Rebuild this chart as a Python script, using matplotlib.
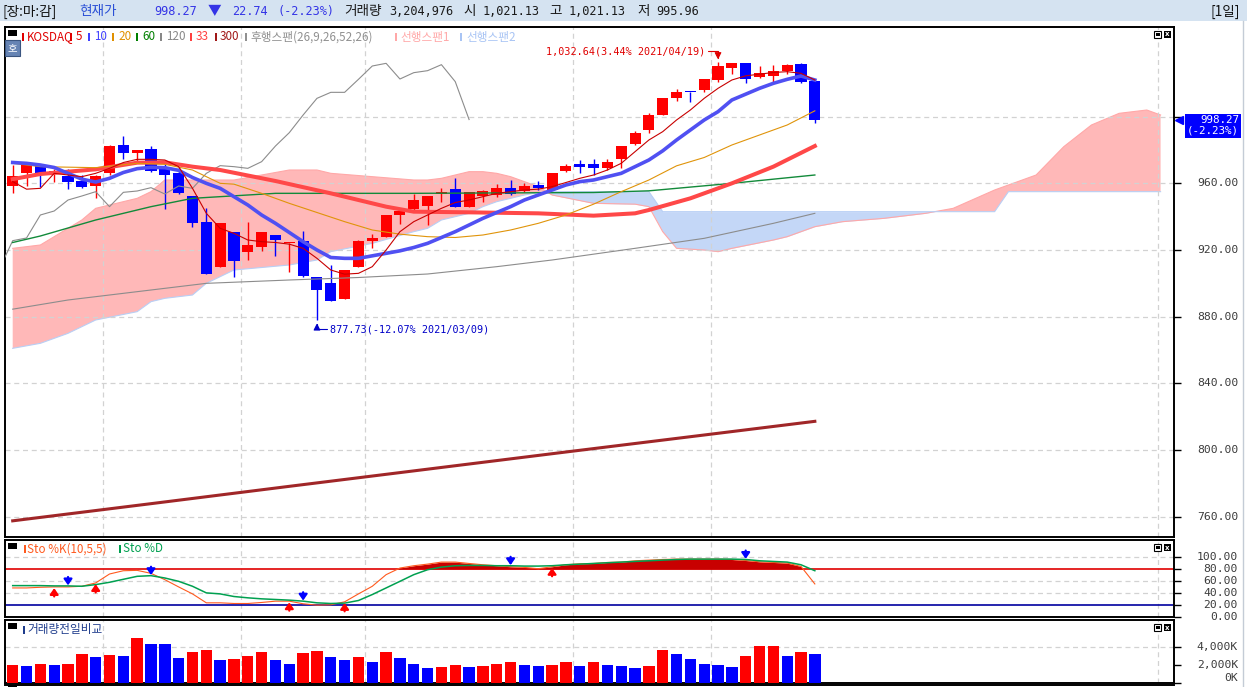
import numpy as np
import matplotlib
matplotlib.use("Agg")
import matplotlib.pyplot as plt
from matplotlib import transforms
from matplotlib.patches import Rectangle

plt.rcParams["font.family"] = ["Noto Sans CJK KR", "DejaVu Sans"]
plt.rcParams["axes.unicode_minus"] = False
MONO = ["DejaVu Sans Mono", "Noto Sans CJK KR"]

# ── KOSDAQ daily candles, 2021/02/02 ~ 2021/04/28 ─────────────────────────────
OPEN = [958.6, 966, 970.4, 966, 964.6, 961.4, 958.6, 966, 983, 978,
        980.6, 969.4, 966.4, 952.4, 936.8, 910, 930.8, 919, 922, 929,
        924, 925.4, 903.8, 900.2, 890.8, 910, 925.6, 928, 941, 944.6,
        946.4, 953.6, 956.6, 946, 952.6, 953, 957, 955.6, 959, 956,
        967.6, 971.6, 971.6, 969, 974.4, 983.4, 992, 1001, 1011.4, 1014.8,
        1016, 1022, 1029.4, 1032, 1024, 1024.6, 1027.6, 1031.4, 1021.13]
HIGH = [971, 971.5, 971, 968.4, 968.4, 964.8, 965, 983, 988.4, 980,
        982.4, 972, 970, 952.4, 945.4, 936.2, 930.8, 937, 930.8, 929,
        924.5, 931.4, 903.8, 911, 908, 926, 929.4, 941, 944, 953.4,
        952.4, 957.4, 963, 955, 956, 959.6, 962, 960, 961.4, 966,
        971.6, 974, 974.4, 974.4, 982.4, 991.4, 1002, 1011, 1016.6, 1014.8,
        1022.4, 1032.64, 1032, 1032, 1030.4, 1031, 1031.5, 1032.5, 1021.13]
LOW = [954, 958.6, 958, 961, 956.6, 957.5, 951.4, 965, 974.4, 972.6,
       967, 944.6, 953.4, 934, 905.8, 910, 904, 914, 919.4, 916.4,
       907, 904, 877.73, 889.6, 890.8, 910, 921.4, 928, 935.4, 944,
       935, 949, 946, 946, 948.6, 952, 953, 955, 956, 956,
       967, 966.4, 965, 968, 969, 983, 990.4, 1001, 1009.6, 1009,
       1014.6, 1021, 1025.6, 1020, 1023, 1020, 1025.6, 1020, 995.96]
CLOSE = [964.4, 971, 966, 967.6, 961, 958, 964.4, 982.6, 978, 980,
         967.6, 965, 954.4, 936.4, 905.8, 936.2, 913.6, 923, 930.8, 926,
         924.3, 904.4, 896, 889.6, 908, 925.6, 927.2, 941, 943.4, 950,
         952.4, 955, 946, 954.6, 955.4, 957.4, 953.6, 958.4, 957, 966,
         970.6, 970, 969, 973, 982.4, 990.4, 1001, 1011, 1014.6, 1014.6,
         1022.4, 1030.4, 1032, 1022.6, 1026.4, 1027.6, 1031.2, 1021.01, 998.27]
VOLUME_K = [2058, 1942, 2175, 2058, 2175, 3223, 2874, 3107, 2990, 5087,
            4388, 4350, 2757, 3456, 3689, 2524, 2641, 2990, 3456, 2524,
            2175, 3340, 3573, 2874, 2524, 2874, 2408, 3456, 2757, 2175,
            1709, 1825, 2058, 1825, 1850, 2175, 2408, 2058, 1942, 2058,
            2408, 1942, 2408, 2058, 1942, 1709, 1942, 3689, 3223, 2641,
            2175, 2058, 1825, 2990, 4155, 4180, 2990, 3456, 3204.976]
HIGH_DATE = "2021/04/19"
LOW_DATE = "2021/03/09"

# ── moving averages ───────────────────────────────────────────────────────────
MA5 = [961, 956.5, 957, 966, 965, 964, 966, 969, 972.5, 974.4,
       974.4, 974, 970, 957, 942, 933, 930, 926, 925, 924.5,
       923.5, 921, 915, 908, 905.5, 906, 910, 920, 931, 937,
       941, 945, 948.5, 950, 952, 954, 955, 956, 956.5, 958,
       960.5, 963, 965, 968, 972, 979, 986, 991, 998, 1004,
       1011, 1017, 1022, 1024.5, 1025.5, 1026.5, 1027, 1026, 1022]
MA10 = [972.5, 972, 971, 969.5, 966, 962.5, 960.8, 963, 966.5, 968.8,
        969.6, 969.4, 967.8, 963.5, 960, 957, 952, 947, 941, 936,
        930.5, 925, 920, 915.5, 915, 915, 916.5, 918, 919.5, 921.5,
        924, 927.5, 931, 935, 939, 942.5, 946, 950, 953, 956,
        959, 961, 962, 964, 966, 970, 974, 979.5, 986, 992,
        998, 1003, 1010, 1013.5, 1017, 1020, 1022.4, 1024.4, 1022]
MA20_X = [0, 2, 6, 9, 11, 13, 14, 15, 16, 18, 20, 22, 24, 26, 28,
          30, 32, 34, 36, 38, 40, 42, 44, 46, 48, 50, 52, 54, 56, 58]
MA20 = [972, 970, 969.4, 972, 971.4, 968, 964, 960, 959.5, 954, 948, 942.5, 937, 932, 929.5,
        928, 927.5, 929, 932, 936, 941, 947.5, 955, 962, 970.5, 975.5, 983, 989, 995, 1003.5]
MA33_X = [0, 2, 6, 9, 11, 13, 15, 19, 23, 27, 29, 33, 38, 42, 45, 46, 49, 52, 55, 58]
MA33 = [962.5, 965.6, 968.4, 972.4, 972.6, 970, 968, 961.4, 954, 946,
        943, 942.6, 942, 940.6, 942, 944, 951, 960, 970, 982.4]
MA60_X = [0, 2, 6, 10, 13, 15, 19, 29, 42, 46, 52, 58]
MA60 = [924.5, 928.4, 938, 946, 951, 952, 954, 954, 954.5, 955.5, 960, 965]
MA120_X = [0, 4, 10, 14, 20, 25, 30, 35, 39, 45, 50, 55, 58]
MA120 = [884.5, 890, 896, 900, 902, 903.5, 905.6, 910, 914, 921, 927, 936, 942]
MA300_X = [0, 10, 20, 30, 40, 50, 58]
MA300 = [757.5, 767.8, 778.2, 788.5, 798.8, 809, 817.2]

# ── ichimoku cloud (leading spans) ───────────────────────────────────────────
CLOUD_X = [0, 2, 3, 4, 5, 6, 9, 10, 11, 13, 14, 16, 20, 22, 23, 26, 29, 30, 31, 33,
           34, 35, 36, 37, 38, 39, 42, 45, 46, 47, 48, 50, 51, 52, 55, 56, 58, 60, 63,
           66, 67, 68, 71, 72, 74, 76, 78, 80, 82, 83]
SPAN1 = [921, 923, 928, 933, 938, 945, 951, 955, 962, 962, 962, 962, 968, 968, 966, 964, 962, 962, 963, 967,
         967, 966, 964, 961, 958, 953, 948, 947.5, 946, 931, 921, 920, 919, 921, 926, 928, 934, 937, 939,
         942, 943.5, 945, 956, 959, 965, 982, 995, 1002, 1004, 1001]
SPAN2 = [861, 864, 867, 870, 874, 878, 883, 889, 891, 893, 900, 908, 911, 914, 919, 924, 931, 933, 938, 942,
         946, 949, 951, 953, 954.5, 955, 955, 955, 955, 943, 943, 943, 943, 943, 943, 943, 943, 943, 943,
         943, 943, 943, 943, 955, 955, 955, 955, 955, 955, 955]
LAG_SHIFT = 25

# ── slow stochastic (10,5,5) ─────────────────────────────────────────────────
STO_K = [48.3, 48.3, 49.4, 50, 50, 51.1, 56.7, 71.7, 77.2, 77.8,
         72.8, 62.2, 50, 38.3, 23.3, 23.3, 22.2, 22.2, 23.9, 26.1,
         26.1, 21.7, 19.4, 20, 25, 38.3, 51.1, 70.6, 81.7, 85.6,
         88.3, 91.7, 91.7, 89.4, 87.2, 85.6, 83.9, 82.8, 80.6, 83.9,
         87.2, 88.9, 89.4, 91.1, 91.7, 93.9, 95, 96.1, 96.7, 96.7,
         96.7, 96.7, 96.1, 94.4, 92.2, 91.1, 90, 84.4, 55]
STO_D = [52.2, 52.2, 52.2, 51.7, 51.7, 51.1, 53.9, 57.8, 62.8, 67.8,
         68.9, 65, 59.4, 51.1, 40, 38.3, 33.9, 31.7, 30, 28.9,
         27.8, 26.1, 23.3, 22.2, 22.8, 27.2, 37.2, 48.3, 59.4, 70.6,
         78.9, 83.3, 85.6, 86.1, 86.1, 85.6, 85.6, 85, 85, 85.6,
         87.2, 88.3, 89.4, 90.6, 91.7, 92.8, 93.9, 95, 96.1, 96.7,
         96.7, 96.7, 96.7, 96.1, 93.9, 92.8, 91.7, 87.2, 77.2]
STO_BUY = [3, 6, 20, 24, 39]
STO_SELL = [4, 10, 21, 36, 53]

PRICE_TICKS = [760, 800, 840, 880, 920, 960, 1000]
PRICE_LABELED = [760, 800, 840, 880, 920, 960]   # 1,000.00 sits under the price tag
STO_TICKS = [100, 80, 60, 40, 20, 0]
VOL_TICKS = [4000, 2000, 0]
GRID_X = [6.5, 16.5, 25.5, 40.5, 50.5, 82.8]

# ── layout helpers (pixel coords, y from top) ────────────────────────────────
W, H = 1247, 687
def fx(px): return px / W
def fy(py): return 1 - py / H

SLOT, X_FIRST = 13.83, 12.7
XMIN = (5 - X_FIRST) / SLOT
XMAX = (1174 - X_FIRST) / SLOT
LBL_X = (1238 - 5) / (1174 - 5)

fig = plt.figure(figsize=(W / 100, H / 100), dpi=100)
fig.patch.set_facecolor("white")


def px_rect(x, y, w, h, **kw):
    fig.add_artist(Rectangle((fx(x), fy(y + h)), w / W, h / H,
                             transform=fig.transFigure, **kw))


def make_panel(top, bottom, ylim):
    ax = fig.add_axes([fx(5), fy(bottom), (1174 - 5) / W, (bottom - top) / H])
    ax.set_xlim(XMIN, XMAX)
    ax.set_ylim(*ylim)
    for s in ax.spines.values():
        s.set_color("black")
        s.set_linewidth(1.4)
    ax.tick_params(axis="x", bottom=False, labelbottom=False)
    ax.tick_params(axis="y", left=False, labelleft=False, right=True, labelright=False,
                   direction="out", length=5, width=1, colors="black")
    # panel icons
    px_rect(8, top + 3, 9, 6, facecolor="black", edgecolor="none")
    px_rect(1154, top + 4, 7, 7, facecolor="white", edgecolor="black", lw=0.8)
    px_rect(1155.5, top + 6, 4, 3, facecolor="black", edgecolor="none")
    px_rect(1164, top + 4, 7, 7, facecolor="black", edgecolor="none")
    fig.text(fx(1167.5), fy(top + 7.5), "x", color="white", fontsize=5,
             ha="center", va="center", family="DejaVu Sans", fontweight="bold")
    return ax


def right_labels(ax, ticks, vals, texts, va_map=None):
    tr = transforms.blended_transform_factory(ax.transAxes, ax.transData)
    for v, t in zip(vals, texts):
        va = (va_map or {}).get(v, "center")
        ax.text(LBL_X, v, t, transform=tr, ha="right", va=va, family=MONO,
                fontsize=8.2, color="#3c3c3c", clip_on=False)
    ax.set_yticks(ticks)


def vgrid(ax):
    for gx in GRID_X:
        ax.axvline(gx, color="#d2d2d2", lw=0.9, ls=(0, (4, 3)), zorder=1.5)


n = len(CLOSE)
idx = np.arange(n)
o, h, l, c = (np.array(a, dtype=float) for a in (OPEN, HIGH, LOW, CLOSE))
last, prev = c[-1], c[-2]
chg = last - prev
pct = chg / prev * 100

# ── header bar ───────────────────────────────────────────────────────────────
px_rect(0, 0, W, 21, facecolor="#d5e3f1", edgecolor="none")
BLUE_TXT = "#3434e6"
DARK = "#1a1a1a"
header = [
    ("[장:마:감]", 3, "#111111", False),
    ("현재가", 79, "#2a4fd6", False),
    (f"{last:,.2f}", 154, BLUE_TXT, True),
    ("▼", 208, BLUE_TXT, False),
    (f"{abs(chg):,.2f}", 232, BLUE_TXT, True),
    (f"({pct:.2f}%)", 278, BLUE_TXT, True),
    ("거래량", 344, DARK, False),
    (f"{int(round(VOLUME_K[-1] * 1000)):,}", 389, DARK, True),
    ("시", 463, DARK, False),
    (f"{o[-1]:,.2f}", 483, DARK, True),
    ("고", 549, DARK, False),
    (f"{h[-1]:,.2f}", 569, DARK, True),
    ("저", 637, DARK, False),
    (f"{l[-1]:,.2f}", 656, DARK, True),
    ("[1일]", 1210, "#111111", False),
]
for s, x, col, mono in header:
    if mono:
        fig.text(fx(x), fy(11.5), s, ha="left", va="center", family=MONO,
                 fontsize=8.6, color=col)
    else:
        fig.text(fx(x), fy(11.5), s, ha="left", va="center", fontsize=9.8, color=col)
fig.add_artist(plt.Line2D([fx(1243), fx(1243)], [fy(21), fy(687)],
                          transform=fig.transFigure, color="#c4ccd6", lw=1))

# ── main price panel ─────────────────────────────────────────────────────────
ax = make_panel(27, 537, (747.8, 1053.8))
for v in PRICE_TICKS:
    ax.axhline(v, color="#d2d2d2", lw=0.9, ls=(0, (4, 3)), zorder=1.5)
vgrid(ax)
right_labels(ax, PRICE_TICKS, PRICE_LABELED, [f"{v:,.2f}" for v in PRICE_LABELED])

cx = np.array(CLOUD_X, dtype=float)
s1 = np.array(SPAN1, dtype=float)
s2 = np.array(SPAN2, dtype=float)
ax.fill_between(cx, s1, s2, where=s1 >= s2, interpolate=True, color="#ffb8b8", lw=0, zorder=1)
ax.fill_between(cx, s1, s2, where=s1 < s2, interpolate=True, color="#c4d7f7", lw=0, zorder=1)
ax.plot(cx, s1, color="#ffa8a8", lw=0.8, zorder=1.2)
ax.plot(cx, s2, color="#b8cff5", lw=0.8, zorder=1.2)

up = c >= o
col = np.where(up, "#ff0000", "#0000ff")
ax.vlines(idx, l, h, colors=col, lw=1, zorder=3)
ax.bar(idx, np.maximum(np.abs(c - o), 0.6), bottom=np.minimum(o, c), width=0.8,
       color=col, lw=0, zorder=3)

ax.plot(idx - LAG_SHIFT, c, color="#8c8c8c", lw=0.8, zorder=4)
ax.plot(MA300_X, MA300, color="#a02628", lw=2.2, zorder=4)
ax.plot(MA120_X, MA120, color="#8c8c8c", lw=0.8, zorder=4)
ax.plot(MA60_X, MA60, color="#128a3a", lw=1.0, zorder=4)
ax.plot(MA33_X, MA33, color="#ff4848", lw=2.9, zorder=4)
ax.plot(MA20_X, MA20, color="#e0940a", lw=0.8, zorder=4)
ax.plot(idx, MA10, color="#5050f2", lw=2.6, zorder=4)
ax.plot(idx, MA5, color="#c80000", lw=0.8, zorder=4.5)

ih, il = int(np.argmax(h)), int(np.argmin(l))
arrow = dict(arrowstyle="-|>,head_length=0.4,head_width=0.2", mutation_scale=10,
             lw=0.8, shrinkA=0, shrinkB=2, connectionstyle="angle,angleA=0,angleB=90,rad=0")
ax.annotate(f"{h[ih]:,.2f}({(h[ih] - last) / last * 100:.2f}% {HIGH_DATE})",
            xy=(ih, h[ih]), xytext=(-13, 11), textcoords="offset pixels",
            ha="right", va="center", family=MONO, fontsize=7.3, color="#e00000", zorder=6,
            arrowprops=dict(arrow, color="#e00000", relpos=(1.0, 0.5)))
ax.annotate(f"{l[il]:,.2f}({(l[il] - last) / last * 100:.2f}% {LOW_DATE})",
            xy=(il, l[il]), xytext=(13, -9), textcoords="offset pixels",
            ha="left", va="center", family=MONO, fontsize=7.3, color="#0000c8", zorder=6,
            arrowprops=dict(arrow, color="#0000c8", relpos=(0.0, 0.5)))

# current price tag
tr = transforms.blended_transform_factory(ax.transAxes, ax.transData)
ax.annotate(f"{last:,.2f}\n({pct:.2f}%)", xy=(1.0, last), xycoords=tr,
            xytext=(65, -6), textcoords="offset pixels", ha="right", va="center",
            multialignment="right", family=MONO, fontsize=7.8, color="white",
            linespacing=1.1,
            bbox=dict(boxstyle="square,pad=0.15", fc="#0000ff", ec="none"),
            annotation_clip=False, zorder=10)
ax.plot([1.0045], [last], marker="<", ms=5.5, color="#0000ff", transform=tr,
        clip_on=False, zorder=10)

# legend row
LEGEND = [
    ("KOSDAQ", "#e00000", 22, 27), ("5", "#e00000", 70, 76), ("10", "#4040ff", 88, 94),
    ("20", "#e09000", 112, 118), ("60", "#008000", 136, 142), ("120", "#888888", 160, 166),
    ("33", "#ff4040", 190, 196), ("300", "#a01818", 215, 220),
    ("후행스팬(26,9,26,52,26)", "#909090", 245, 250),
    ("선행스팬1", "#ffa8a8", 395, 400), ("선행스팬2", "#a8c4f4", 460, 466),
]
for name, colr, bx, tx in LEGEND:
    px_rect(bx, 33, 2, 8, facecolor=colr, edgecolor="none")
    fig.text(fx(tx), fy(37), name, ha="left", va="center", fontsize=8.4, color=colr)
px_rect(5, 40, 15, 16, facecolor="#6684b4", edgecolor="#3a5580", lw=0.8)
fig.text(fx(12.5), fy(48), "호", ha="center", va="center", fontsize=7.5, color="white")

# ── stochastic panel ─────────────────────────────────────────────────────────
ax2 = make_panel(540, 617, (-0.5, 128.8))
for v in (100, 60, 40):
    ax2.axhline(v, color="#d2d2d2", lw=0.9, ls=(0, (4, 3)), zorder=1)
vgrid(ax2)
ax2.axhline(80, color="#e00000", lw=1.2, zorder=2)
ax2.axhline(20, color="#0000a0", lw=1.2, zorder=2)
k = np.array(STO_K)
d = np.array(STO_D)
ax2.fill_between(idx, 80, k, where=k > 80, interpolate=True, color="#c80000", lw=0, zorder=2.5)
ax2.plot(idx, k, color="#ff5a1e", lw=0.8, zorder=3)
ax2.plot(idx, d, color="#00a050", lw=1.1, zorder=3)
sig = dict(arrowstyle="-|>,head_length=0.5,head_width=0.35", mutation_scale=7,
           lw=1.6, shrinkA=0, shrinkB=0)
for i in STO_BUY:
    ax2.annotate("", xy=(i, k[i] - 2), xytext=(i, k[i] - 16),
                 arrowprops=dict(sig, color="#ff0000"), zorder=5)
for i in STO_SELL:
    ax2.annotate("", xy=(i, d[i] + 1), xytext=(i, d[i] + 15),
                 arrowprops=dict(sig, color="#0000ff"), zorder=5, annotation_clip=False)
right_labels(ax2, STO_TICKS, STO_TICKS, [f"{v:.2f}" for v in STO_TICKS])
px_rect(24, 545, 2, 8, facecolor="#ff5a1e", edgecolor="none")
fig.text(fx(27), fy(549), "Sto %K(10,5,5)", ha="left", va="center", fontsize=8.4, color="#ff5a1e")
px_rect(119, 545, 2, 8, facecolor="#00a050", edgecolor="none")
fig.text(fx(123), fy(549), "Sto %D", ha="left", va="center", fontsize=8.4, color="#00a050")

# ── volume vs previous day ──────────────────────────────────────────────────
ax3 = make_panel(620, 683, (0, 7060))
ax3.axhline(4000, color="#d2d2d2", lw=0.9, ls=(0, (4, 3)), zorder=1)
vgrid(ax3)
vol = np.array(VOLUME_K)
vol_up = np.concatenate([[True], vol[1:] > vol[:-1]])
ax3.bar(idx, vol, width=0.82, color=np.where(vol_up, "#ff0000", "#0000ff"), lw=0, zorder=3)
right_labels(ax3, VOL_TICKS, VOL_TICKS, [f"{v:,}K" for v in VOL_TICKS], va_map={0: "bottom"})
px_rect(23, 626, 2, 8, facecolor="#1e3c8c", edgecolor="none")
fig.text(fx(27), fy(630), "거래량전일비교", ha="left", va="center", fontsize=8.4, color="#1e3c8c")

# bottom strip (next panel header)
fig.add_artist(plt.Line2D([fx(5), fx(1174)], [fy(685), fy(685)],
                          transform=fig.transFigure, color="black", lw=1.4))
px_rect(8, 685, 9, 2, facecolor="black", edgecolor="none")

fig.savefig("out.png", dpi=100)
